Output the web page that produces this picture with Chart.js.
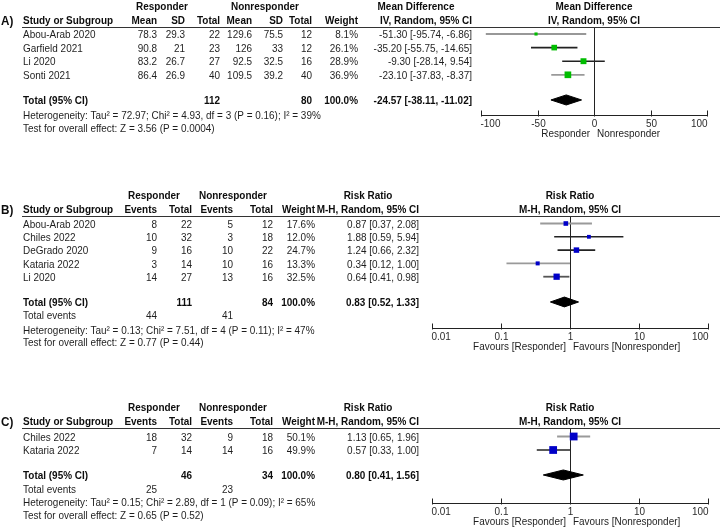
<!DOCTYPE html>
<html><head><meta charset="utf-8">
<script src="https://cdn.jsdelivr.net/npm/chart.js@4.4.1/dist/chart.umd.min.js"></script>
<style>
html,body{margin:0;padding:0;background:#fff;}
#wrap{position:relative;width:722px;height:532px;overflow:hidden;background:#fff;}
canvas{position:absolute;left:0;}
</style></head><body>
<div id="wrap">
<canvas id="cA" width="722" height="145" style="top:0px"></canvas>
<canvas id="cB" width="722" height="175" style="top:185px"></canvas>
<canvas id="cC" width="722" height="137" style="top:395px"></canvas>
</div>
<script>
// ================= DATA =================
// Panel A: continuous outcome (Mean Difference)
const studiesA   = ['Abou-Arab 2020','Garfield 2021','Li 2020','Sonti 2021'];
const respMeanA  = [78.3, 90.8, 83.2, 86.4];
const respSDA    = [29.3, 21, 26.7, 26.9];
const respNA     = [22, 23, 27, 40];
const nonMeanA   = [129.6, 126, 92.5, 109.5];
const nonSDA     = [75.5, 33, 32.5, 39.2];
const nonNA      = [12, 12, 16, 40];
const weightA    = [8.1, 26.1, 28.9, 36.9];
const mdA        = [-51.30, -35.20, -9.30, -23.10];
const mdLoA      = [-95.74, -55.75, -28.14, -37.83];
const mdHiA      = [-6.86, -14.65, 9.54, -8.37];
const totalA     = {resp:112, non:80, est:-24.57, lo:-38.11, hi:-11.02};
const hetA       = 'Heterogeneity: Tau\u00b2 = 72.97; Chi\u00b2 = 4.93, df = 3 (P = 0.16); I\u00b2 = 39%';
const testA      = 'Test for overall effect: Z = 3.56 (P = 0.0004)';
const ticksA     = [-100, -50, 0, 50, 100];

// Panel B: dichotomous outcome (Risk Ratio)
const studiesB   = ['Abou-Arab 2020','Chiles 2022','DeGrado 2020','Kataria 2022','Li 2020'];
const respEvB    = [8, 10, 9, 3, 14];
const respNB     = [22, 32, 16, 14, 27];
const nonEvB     = [5, 3, 10, 10, 13];
const nonNB      = [12, 18, 22, 16, 16];
const weightB    = [17.6, 12.0, 24.7, 13.3, 32.5];
const rrB        = [0.87, 1.88, 1.24, 0.34, 0.64];
const rrLoB      = [0.37, 0.59, 0.66, 0.12, 0.41];
const rrHiB      = [2.08, 5.94, 2.32, 1.00, 0.98];
const totalB     = {resp:111, non:84, est:0.83, lo:0.52, hi:1.33, evResp:44, evNon:41};
const hetB       = 'Heterogeneity: Tau\u00b2 = 0.13; Chi\u00b2 = 7.51, df = 4 (P = 0.11); I\u00b2 = 47%';
const testB      = 'Test for overall effect: Z = 0.77 (P = 0.44)';

// Panel C: dichotomous outcome (Risk Ratio)
const studiesC   = ['Chiles 2022','Kataria 2022'];
const respEvC    = [18, 7];
const respNC     = [32, 14];
const nonEvC     = [9, 14];
const nonNC      = [18, 16];
const weightC    = [50.1, 49.9];
const rrC        = [1.13, 0.57];
const rrLoC      = [0.65, 0.33];
const rrHiC      = [1.96, 1.00];
const totalC     = {resp:46, non:34, est:0.80, lo:0.41, hi:1.56, evResp:25, evNon:23};
const hetC       = 'Heterogeneity: Tau\u00b2 = 0.15; Chi\u00b2 = 2.89, df = 1 (P = 0.09); I\u00b2 = 65%';
const testC      = 'Test for overall effect: Z = 0.65 (P = 0.52)';
const ticksRR    = [0.01, 0.1, 1, 10, 100];

// ================= STYLE / LAYOUT =================
const SX = 0.865;
const FS = 11.5;
const FONT = '"Liberation Sans", Arial, sans-serif';
function txt(ctx, s, x, y, align, bold, size, color) {
  ctx.save();
  ctx.font = (bold ? 'bold ' : '') + (size || FS) + 'px ' + FONT;
  ctx.fillStyle = color || (bold ? '#0d0d0d' : '#1e1e1e');
  ctx.textAlign = align || 'left';
  ctx.textBaseline = 'middle';
  ctx.translate(x, y);
  ctx.scale(SX, 1);
  ctx.fillText(s, 0, 0);
  ctx.restore();
}
const f1 = v => v.toFixed(1) + '%';
const f2 = v => v.toFixed(2);
const ci = (e, l, h) => f2(e) + ' [' + f2(l) + ', ' + f2(h) + ']';

function panelPlugin(spec) {
  return {
    id: 'forest' + spec.label,
    beforeDatasetsDraw(chart) {
      const ctx = chart.ctx, xs = chart.scales.x, ca = chart.chartArea;
      ctx.save();
      ctx.strokeStyle = '#222'; ctx.lineWidth = 1;
      const z = Math.round(xs.getPixelForValue(spec.nullValue)) + 0.5;
      ctx.beginPath(); ctx.moveTo(z, ca.top); ctx.lineTo(z, ca.bottom); ctx.stroke();
      ctx.strokeStyle = '#333';
      ctx.beginPath(); ctx.moveTo(22, Math.round(ca.top) + 0.5); ctx.lineTo(720, Math.round(ca.top) + 0.5); ctx.stroke();
      ctx.restore();
    },
    afterDraw(chart) {
      const ctx = chart.ctx, xs = chart.scales.x, ys = chart.scales.y, ca = chart.chartArea;
      const top = ca.top, bot = ca.bottom;
      // axis
      ctx.save();
      ctx.strokeStyle = '#222'; ctx.lineWidth = 1;
      const tv = spec.ticks;
      const ab = Math.round(bot) + 0.5;
      ctx.beginPath();
      ctx.moveTo(xs.getPixelForValue(tv[0]), ab);
      ctx.lineTo(xs.getPixelForValue(tv[tv.length - 1]), ab);
      ctx.stroke();
      tv.forEach((v, i) => {
        const px = Math.round(xs.getPixelForValue(v)) + 0.5;
        ctx.beginPath(); ctx.moveTo(px, ab - 5); ctx.lineTo(px, ab + 1); ctx.stroke();
        const al = i === 0 ? 'left' : (i === tv.length - 1 ? 'right' : 'center');
        txt(ctx, String(v), px + (i === 0 ? -1 : 0), bot + 9, al, false, FS, '#2b2b2b');
      });
      ctx.restore();
      const zx = xs.getPixelForValue(spec.nullValue);
      txt(ctx, spec.favL, zx - 4, bot + 19, 'right');
      txt(ctx, spec.favR, zx + 3, bot + 19, 'left');
      const pc = (xs.getPixelForValue(tv[0]) + xs.getPixelForValue(tv[tv.length - 1])) / 2;
      // headers
      txt(ctx, spec.label, 1, top - 6, 'left', true, 13.5, '#0d0d0d');
      spec.groups.forEach(g => txt(ctx, g.t, g.x, top - 20, 'center', true));
      txt(ctx, spec.effHead[0], spec.effHeadX, top - 20, 'center', true);
      txt(ctx, spec.effHead[1], spec.cols[spec.cols.length - 1].x, top - 6, 'right', true);
      txt(ctx, spec.effHead[0], pc, top - 20, 'center', true);
      txt(ctx, spec.effHead[1], pc, top - 6, 'center', true);
      spec.cols.forEach(c => { if (c.h) txt(ctx, c.h, c.x, top - 6, c.a, true); });
      // rows
      const rowY = r => ys.getPixelForValue(r) + 1;
      spec.rows.forEach((cells, r) => {
        cells.forEach((s, k) => { const c = spec.cols[k]; txt(ctx, s, c.x, rowY(r), c.a, false); });
      });
      spec.total.forEach((s, k) => { if (s !== '') { const c = spec.cols[k]; txt(ctx, s, c.x, rowY(spec.totalRow), c.a, true); } });
      if (spec.events) spec.events.forEach((s, k) => { if (s !== '') { const c = spec.cols[k]; txt(ctx, s, c.x, rowY(spec.eventsRow), c.a, false); } });
      txt(ctx, spec.het, 23, rowY(spec.hetRow), 'left');
      txt(ctx, spec.test, 23, rowY(spec.testRow), 'left');
    }
  };
}

function makeChart(id, spec) {
  const n = spec.est.length;
  const datasets = [];
  datasets.push({
    data: spec.est.map((e, i) => ({x: e, y: i})),
    pointStyle: 'rect',
    pointRadius: spec.weight.map(w => 1.1 * Math.sqrt(w) / Math.SQRT2),
    pointBackgroundColor: spec.sqColor, pointBorderWidth: 0, borderWidth: 0,
    showLine: false, order: 0
  });
  for (let i = 0; i < n; i++) {
    datasets.push({
      data: [{x: spec.lo[i], y: i}, {x: spec.hi[i], y: i}],
      showLine: true, borderColor: spec.lineColors[i], borderWidth: spec.lineWidths[i],
      pointRadius: 0, order: 2
    });
  }
  const T = spec.totalRow, h = 0.37, t = spec.tot;
  datasets.push({
    data: [{x: t.lo, y: T}, {x: t.est, y: T - h}, {x: t.hi, y: T}, {x: t.est, y: T + h}, {x: t.lo, y: T}],
    showLine: true, fill: 'shape', backgroundColor: '#000', borderColor: '#000', borderWidth: 1,
    pointRadius: 0, tension: 0, order: 1
  });
  const cv = document.getElementById(id);
  const H = cv.height;
  const L = spec.layout;
  new Chart(cv, {
    type: 'scatter',
    data: {datasets},
    options: {
      responsive: false, animation: false, devicePixelRatio: 1,
      layout: {padding: {left: L.left, right: 722 - L.right, top: L.top, bottom: 0}},
      plugins: {legend: {display: false}, tooltip: {enabled: false}},
      scales: {
        x: {
          type: spec.log ? 'logarithmic' : 'linear',
          min: spec.ticks[0], max: spec.ticks[spec.ticks.length - 1],
          grid: {display: false}, border: {display: false}, ticks: {display: false},
          afterBuildTicks: s => { s.ticks = spec.ticks.map(v => ({value: v})); },
          afterFit: s => { s.height = H - L.bottom; }
        },
        y: {
          type: 'linear', reverse: true, display: false,
          min: (L.top - L.row0) / L.rowH, max: (L.bottom - L.row0) / L.rowH
        }
      }
    },
    plugins: [panelPlugin(spec)]
  });
}

// ---- Panel A ----
makeChart('cA', {
  label: 'A)', log: false, nullValue: 0, ticks: ticksA,
  favL: 'Responder', favR: 'Nonresponder',
  est: mdA, lo: mdLoA, hi: mdHiA, weight: weightA, tot: totalA,
  sqColor: '#00bd00',
  lineColors: ['#333', '#222', '#222', '#9a9a9a'], lineWidths: [1.2, 1.6, 1.6, 1.8],
  layout: {left: 481, right: 707, top: 27, bottom: 115, row0: 34, rowH: 13.6},
  groups: [{t: 'Responder', x: 162}, {t: 'Nonresponder', x: 265}],
  effHead: ['Mean Difference', 'IV, Random, 95% CI'], effHeadX: 416,
  cols: [{x: 23, a: 'left', h: 'Study or Subgroup'}, {x: 157, a: 'right', h: 'Mean'}, {x: 185, a: 'right', h: 'SD'},
         {x: 220, a: 'right', h: 'Total'}, {x: 252, a: 'right', h: 'Mean'}, {x: 283, a: 'right', h: 'SD'},
         {x: 312, a: 'right', h: 'Total'}, {x: 358, a: 'right', h: 'Weight'}, {x: 472, a: 'right'}],
  rows: studiesA.map((s, i) => [s, String(respMeanA[i]), String(respSDA[i]), String(respNA[i]), String(nonMeanA[i]),
         String(nonSDA[i]), String(nonNA[i]), f1(weightA[i]), ci(mdA[i], mdLoA[i], mdHiA[i])]),
  total: ['Total (95% CI)', '', '', String(totalA.resp), '', '', String(totalA.non), '100.0%', ci(totalA.est, totalA.lo, totalA.hi)],
  totalRow: 4.85, hetRow: 5.95, testRow: 6.9, het: hetA, test: testA
});

// ---- Panel B ----
const colsRR = [{x: 23, a: 'left', h: 'Study or Subgroup'}, {x: 157, a: 'right', h: 'Events'}, {x: 192, a: 'right', h: 'Total'},
  {x: 233, a: 'right', h: 'Events'}, {x: 273, a: 'right', h: 'Total'}, {x: 315, a: 'right', h: 'Weight'}, {x: 419, a: 'right'}];
makeChart('cB', {
  label: 'B)', log: true, nullValue: 1, ticks: ticksRR,
  favL: 'Favours [Responder]', favR: 'Favours [Nonresponder]',
  est: rrB, lo: rrLoB, hi: rrHiB, weight: weightB, tot: totalB,
  sqColor: '#0000c8',
  lineColors: ['#9a9a9a', '#222', '#222', '#9a9a9a', '#555'], lineWidths: [1.8, 1.4, 1.6, 1.8, 1.8],
  layout: {left: 432, right: 708, top: 31, bottom: 143, row0: 38.5, rowH: 13.3},
  groups: [{t: 'Responder', x: 154}, {t: 'Nonresponder', x: 233}],
  effHead: ['Risk Ratio', 'M-H, Random, 95% CI'], effHeadX: 368,
  cols: colsRR,
  rows: studiesB.map((s, i) => [s, String(respEvB[i]), String(respNB[i]), String(nonEvB[i]), String(nonNB[i]),
         f1(weightB[i]), ci(rrB[i], rrLoB[i], rrHiB[i])]),
  total: ['Total (95% CI)', '', String(totalB.resp), '', String(totalB.non), '100.0%', ci(totalB.est, totalB.lo, totalB.hi)],
  events: ['Total events', String(totalB.evResp), '', String(totalB.evNon), '', '', ''],
  totalRow: 5.9, eventsRow: 6.9, hetRow: 7.97, testRow: 8.92, het: hetB, test: testB
});

// ---- Panel C ----
makeChart('cC', {
  label: 'C)', log: true, nullValue: 1, ticks: ticksRR,
  favL: 'Favours [Responder]', favR: 'Favours [Nonresponder]',
  est: rrC, lo: rrLoC, hi: rrHiC, weight: weightC, tot: totalC,
  sqColor: '#0000c8',
  lineColors: ['#9a9a9a', '#222'], lineWidths: [1.8, 1.5],
  layout: {left: 432, right: 708, top: 33, bottom: 108, row0: 41.5, rowH: 13.5},
  groups: [{t: 'Responder', x: 154}, {t: 'Nonresponder', x: 233}],
  effHead: ['Risk Ratio', 'M-H, Random, 95% CI'], effHeadX: 368,
  cols: colsRR,
  rows: studiesC.map((s, i) => [s, String(respEvC[i]), String(respNC[i]), String(nonEvC[i]), String(nonNC[i]),
         f1(weightC[i]), ci(rrC[i], rrLoC[i], rrHiC[i])]),
  total: ['Total (95% CI)', '', String(totalC.resp), '', String(totalC.non), '100.0%', ci(totalC.est, totalC.lo, totalC.hi)],
  events: ['Total events', String(totalC.evResp), '', String(totalC.evNon), '', '', ''],
  totalRow: 2.85, eventsRow: 3.87, hetRow: 4.87, testRow: 5.82, het: hetC, test: testC
});
</script>
</body></html>
